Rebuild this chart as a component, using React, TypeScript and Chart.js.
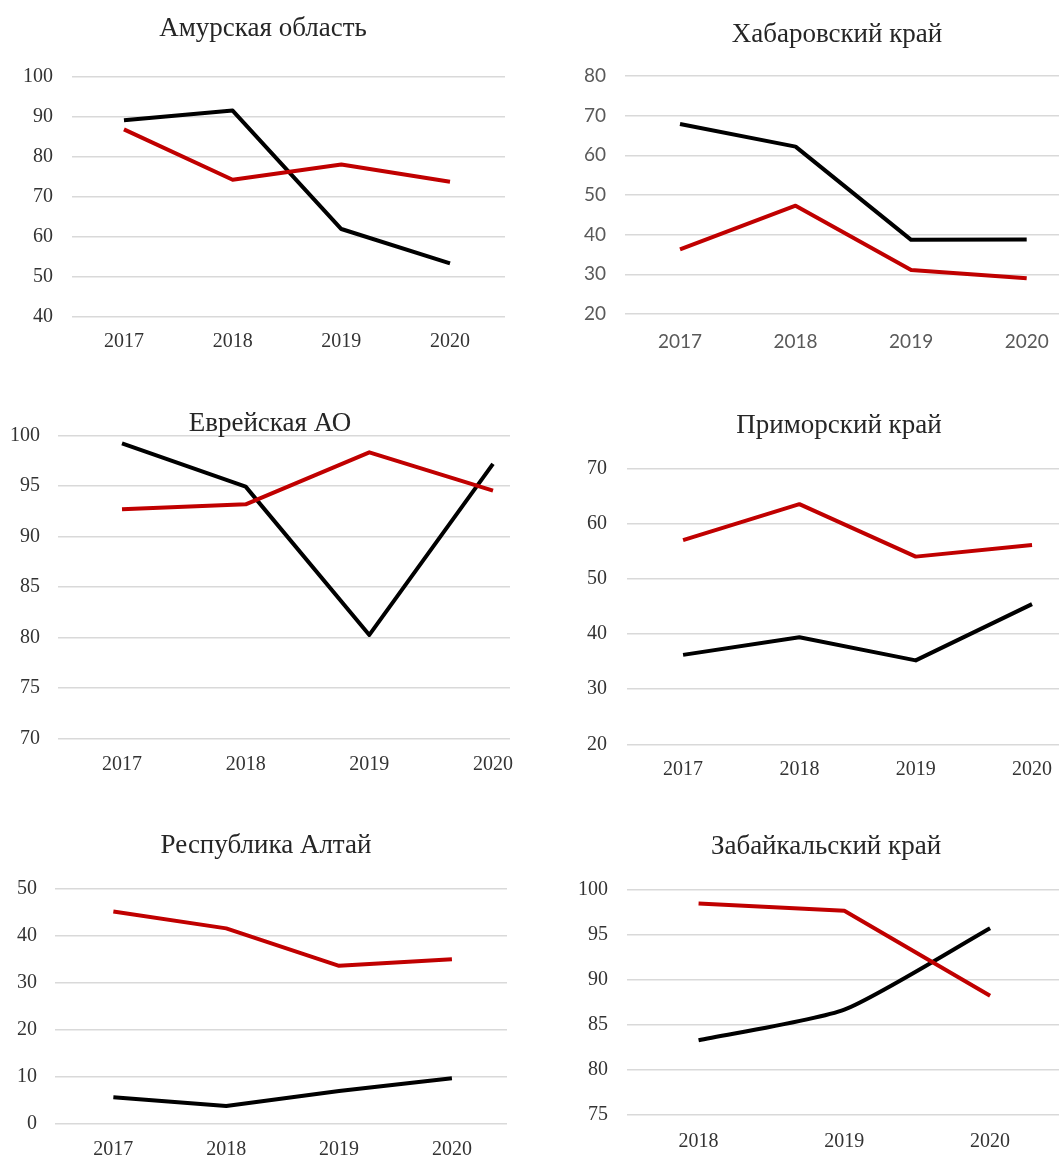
import React, { useEffect, useRef } from 'react';
import { Chart, registerables } from 'chart.js';

Chart.register(...registerables);

// ---------- data ----------
const years4 = [2017, 2018, 2019, 2020];
const years3 = [2018, 2019, 2020];

const amurTitle = 'Амурская область';
const amurBlack = [89.1, 91.5, 61.9, 53.3];
const amurRed = [86.8, 74.2, 78.0, 73.7];

const khabTitle = 'Хабаровский край';
const khabBlack = [67.9, 62.2, 38.7, 38.8];
const khabRed = [36.3, 47.3, 31.1, 29.0];

const evrTitle = 'Еврейская АО';
const evrBlack = [99.25, 94.95, 80.25, 97.2];
const evrRed = [92.7, 93.2, 98.35, 94.55];

const primTitle = 'Приморский край';
const primBlack = [36.2, 39.4, 35.2, 45.4];
const primRed = [57.0, 63.5, 54.0, 56.1];

const altTitle = 'Республика Алтай';
const altBlack = [5.55, 3.7, 6.9, 9.6];
const altRed = [45.2, 41.6, 33.6, 35.0];

const zabTitle = 'Забайкальский край';
const zabBlack = [83.3, 86.7, 95.75];
const zabRed = [98.5, 97.7, 88.25];

// y-axis tick ranges: [min, max, step]
const amurTicks = [40, 100, 10];
const khabTicks = [20, 80, 10];
const evrTicks = [70, 100, 5];
const primTicks = [20, 70, 10];
const altTicks = [0, 50, 10];
const zabTicks = [75, 100, 5];

// ---------- styling / layout ----------
const RED = '#c00000';
const BLACK = '#000000';
const SERIF = '"Liberation Serif", "Times New Roman", serif';
const SANS = 'Lato, "Open Sans", sans-serif';
const TITLE_SIZE = 27;

type PanelCfg = {
  title: string;
  years: number[];
  black: number[];
  red: number[];
  yTicks: number[];
  xMin: number;
  xMax: number;
  left: number;
  top: number;
  width: number;
  padR: number;
  yW: number;
  yPad: number;
  titleX: number;
  titleY: number;
  chartTop: number;
  chartBottom: number;
  labelY: number;
  tickFamily: string;
  tickSize: number;
  tickColor: string;
  blackTension: number;
};

const panels: PanelCfg[] = [
  {
    title: amurTitle, years: years4, black: amurBlack, red: amurRed, yTicks: amurTicks,
    xMin: 2016.522, xMax: 2020.506,
    left: 0, top: 0, width: 515, padR: 10, yW: 72, yPad: 19,
    titleX: 263, titleY: 27, chartTop: 76.5, chartBottom: 316.7, labelY: 341.7,
    tickFamily: SERIF, tickSize: 20, tickColor: '#333333', blackTension: 0,
  },
  {
    title: khabTitle, years: years4, black: khabBlack, red: khabRed, yTicks: khabTicks,
    xMin: 2016.524, xMax: 2021.015,
    left: 530, top: 0, width: 614, padR: 0, yW: 95, yPad: 19,
    titleX: 837, titleY: 33, chartTop: 76, chartBottom: 314, labelY: 341.7,
    tickFamily: SANS, tickSize: 19, tickColor: '#595959', blackTension: 0,
  },
  {
    title: evrTitle, years: years4, black: evrBlack, red: evrRed, yTicks: evrTicks,
    xMin: 2016.4825, xMax: 2020.1375,
    left: 0, top: 390, width: 540, padR: 30, yW: 58, yPad: 18,
    titleX: 270, titleY: 422.5, chartTop: 435.7, chartBottom: 738.3, labelY: 765,
    tickFamily: SERIF, tickSize: 20, tickColor: '#333333', blackTension: 0,
  },
  {
    title: primTitle, years: years4, black: primBlack, red: primRed, yTicks: primTicks,
    xMin: 2016.518, xMax: 2020.997,
    left: 530, top: 390, width: 618, padR: 0, yW: 97, yPad: 20,
    titleX: 839, titleY: 424, chartTop: 468.3, chartBottom: 744.3, labelY: 770,
    tickFamily: SERIF, tickSize: 20, tickColor: '#333333', blackTension: 0,
  },
  {
    title: altTitle, years: years4, black: altBlack, red: altRed, yTicks: altTicks,
    xMin: 2016.483, xMax: 2020.488,
    left: 0, top: 800, width: 517, padR: 10, yW: 55, yPad: 18,
    titleX: 266, titleY: 844, chartTop: 889, chartBottom: 1123.3, labelY: 1150,
    tickFamily: SERIF, tickSize: 20, tickColor: '#333333', blackTension: 0,
  },
  {
    title: zabTitle, years: years3, black: zabBlack, red: zabRed, yTicks: zabTicks,
    xMin: 2017.509, xMax: 2020.905,
    left: 530, top: 800, width: 592, padR: 0, yW: 97, yPad: 19,
    titleX: 826, titleY: 845, chartTop: 890, chartBottom: 1115, labelY: 1141.7,
    tickFamily: SERIF, tickSize: 20, tickColor: '#333333', blackTension: 0.2,
  },
];

function Panel({ cfg }: { cfg: PanelCfg }) {
  const ref = useRef<HTMLCanvasElement | null>(null);
  const height = Math.round(cfg.chartBottom - cfg.top + 40);
  const xH = height - (cfg.chartBottom - cfg.top);

  useEffect(() => {
    const canvas = ref.current;
    if (!canvas) return;
    const xTickPad = cfg.labelY - cfg.chartBottom - cfg.tickSize / 2;
    const tickFont = { family: cfg.tickFamily, size: cfg.tickSize, lineHeight: 1 };

    const chart = new Chart(canvas, {
      type: 'line',
      data: {
        datasets: [
          {
            label: 'red',
            data: cfg.years.map((y, i) => ({ x: y, y: cfg.red[i] })),
            borderColor: RED,
            backgroundColor: RED,
            borderWidth: 4,
            pointRadius: 0,
            tension: 0,
            borderJoinStyle: 'round',
            fill: false,
          },
          {
            label: 'black',
            data: cfg.years.map((y, i) => ({ x: y, y: cfg.black[i] })),
            borderColor: BLACK,
            backgroundColor: BLACK,
            borderWidth: 4,
            pointRadius: 0,
            tension: cfg.blackTension,
            borderJoinStyle: 'round',
            fill: false,
          },
        ],
      },
      options: {
        animation: false,
        responsive: false,
        maintainAspectRatio: false,
        devicePixelRatio: 1,
        layout: {
          padding: { left: 0, right: cfg.padR, top: cfg.chartTop - cfg.top, bottom: 0 },
        },
        plugins: {
          legend: { display: false },
          tooltip: { enabled: false },
          title: { display: false },
        },
        scales: {
          x: {
            type: 'linear',
            min: cfg.xMin,
            max: cfg.xMax,
            grid: { display: false, drawTicks: false },
            border: { display: false },
            afterBuildTicks: (axis: any) => {
              axis.ticks = cfg.years.map((v) => ({ value: v }));
            },
            afterFit: (axis: any) => {
              axis.height = xH;
            },
            ticks: {
              font: tickFont,
              color: cfg.tickColor,
              padding: xTickPad,
              maxRotation: 0,
              autoSkip: false,
              callback: (v: any) => String(v),
            },
          },
          y: {
            type: 'linear',
            min: cfg.yTicks[0],
            max: cfg.yTicks[1],
            grid: { color: '#d9d9d9', lineWidth: 1.5, drawTicks: false },
            border: { display: false },
            afterFit: (axis: any) => {
              axis.width = cfg.yW;
            },
            ticks: {
              stepSize: cfg.yTicks[2],
              font: tickFont,
              color: cfg.tickColor,
              padding: cfg.yPad,
            },
          },
        },
      },
    } as any);
    return () => chart.destroy();
  }, [cfg, xH]);

  return (
    <>
      <canvas
        ref={ref}
        width={cfg.width}
        height={height}
        style={{
          position: 'absolute',
          left: cfg.left,
          top: cfg.top,
          width: cfg.width,
          height: height,
        }}
      />
      <div
        style={{
          position: 'absolute',
          left: cfg.titleX - 300,
          top: cfg.titleY - TITLE_SIZE / 2,
          width: 600,
          textAlign: 'center',
          fontFamily: SERIF,
          fontSize: TITLE_SIZE,
          lineHeight: TITLE_SIZE + 'px',
          color: '#262626',
          whiteSpace: 'nowrap',
        }}
      >
        {cfg.title}
      </div>
    </>
  );
}

export default function App() {
  return (
    <div
      style={{
        position: 'absolute',
        left: 0,
        top: 0,
        width: 1059,
        height: 1158,
        overflow: 'hidden',
        background: '#ffffff',
      }}
    >
      {panels.map((p, i) => (
        <Panel key={i} cfg={p} />
      ))}
    </div>
  );
}
